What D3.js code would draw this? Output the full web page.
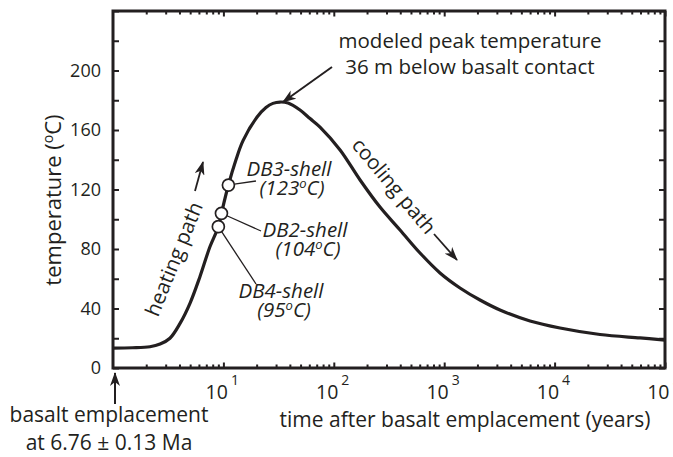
<!DOCTYPE html>
<html><head><meta charset="utf-8">
<script src="https://cdn.jsdelivr.net/npm/d3@7"></script>
<style>
body{margin:0;background:#fff;}
svg text{font-family:"Open Sans",sans-serif;fill:#231f20;}
</style></head><body>
<svg id="chart" width="673" height="457"></svg>
<script>
// ---- data ----
const timeYears = [1, 1.5, 2.16, 2.67, 3.28, 4.05, 4.98, 6.13, 7.55, 9.0, 9.6, 11.1, 13.0, 15.1, 20.2, 24.3, 28.1, 32.6, 38.5, 49.4, 60.9, 75, 114, 173, 262, 398, 604, 916, 1390, 2110, 3200, 5990, 11190, 25780, 59370, 100000];
const tempC     = [13.4, 13.6, 14.3, 16.1, 20, 30, 43.5, 61.4, 81.5, 95, 104, 123, 140, 153, 168.7, 175.1, 177.9, 178.8, 178.1, 173.4, 167.7, 162, 146.6, 126.4, 108.2, 92.8, 77.3, 63.9, 53.8, 45.7, 39, 31.6, 26.9, 22.5, 20.2, 18.8];
const sampleNames = ["DB3-shell", "DB2-shell", "DB4-shell"];
const sampleTemps = [123, 104, 95];
const sampleTimes = [11.1, 9.6, 9.0];
const yTickLabels = [0, 40, 80, 120, 160, 200];
const yTickValues = [0, 20, 40, 60, 80, 100, 120, 140, 160, 180, 200, 220, 240];
const xDecadeExponents = [1, 2, 3, 4, 5];
const xMinorMultipliers = [2, 3, 4, 5, 6, 7, 8, 9];

// ---- layout ----
const W = 673, H = 457;
const M = {left: 113, right: 8, top: 11, bottom: 89};
const INK = "#231f20";
const svg = d3.select("#chart");

const x = d3.scaleLog().domain([1, 1e5]).range([M.left, W - M.right]);
const y = d3.scaleLinear().domain([0, 240]).range([H - M.bottom, M.top]);

const defs = svg.append("defs");
defs.append("marker").attr("id", "arr")
  .attr("viewBox", "0 0 14 10").attr("refX", 13).attr("refY", 5)
  .attr("markerWidth", 14).attr("markerHeight", 10)
  .attr("markerUnits", "userSpaceOnUse").attr("orient", "auto")
  .append("path").attr("d", "M0,0 L14,5 L0,10 L4,5 Z").attr("fill", INK);

function styleAxis(g, fs) {
  g.select(".domain").remove();
  g.selectAll(".tick line").attr("stroke", INK).attr("stroke-width", 2);
  g.selectAll(".tick text").attr("font-size", fs).attr("fill", INK)
    .style("font-family", '"Open Sans",sans-serif');
}

// y axes
svg.append("g").attr("transform", `translate(${M.left},0)`)
  .call(d3.axisLeft(y).tickValues(yTickValues).tickSize(-6).tickPadding(12)
    .tickFormat(d => yTickLabels.includes(d) ? d : ""))
  .call(g => styleAxis(g, "18px"));
svg.append("g").attr("transform", `translate(${W - M.right},0)`)
  .call(d3.axisRight(y).tickValues(yTickValues).tickSize(-6).tickFormat(""))
  .call(g => styleAxis(g, "18px"));

// x axes (log, minor + major)
const minorVals = [];
[0, 1, 2, 3, 4].forEach(e => xMinorMultipliers.forEach(m => minorVals.push(m * Math.pow(10, e))));
const majorVals = xDecadeExponents.map(e => Math.pow(10, e));
const yb = H - M.bottom;
svg.append("g").attr("transform", `translate(0,${yb})`)
  .call(d3.axisBottom(x).tickValues(minorVals).tickSize(-3.5).tickFormat(""))
  .call(g => styleAxis(g, "18px"));
svg.append("g").attr("transform", `translate(0,${M.top})`)
  .call(d3.axisTop(x).tickValues(minorVals).tickSize(-3.5).tickFormat(""))
  .call(g => styleAxis(g, "18px"));
svg.append("g").attr("transform", `translate(0,${M.top})`)
  .call(d3.axisTop(x).tickValues(majorVals).tickSize(-5.5).tickFormat(""))
  .call(g => styleAxis(g, "18px"));
const xMajor = svg.append("g").attr("transform", `translate(0,${yb})`)
  .call(d3.axisBottom(x).tickValues(majorVals).tickSize(-5.5).tickFormat(""))
  .call(g => styleAxis(g, "18px"));
xMajor.selectAll(".tick").each(function(d) {
  const t = d3.select(this);
  t.append("text").attr("x", 4).attr("y", 31).attr("text-anchor", "end")
    .attr("font-size", "19.5px").attr("fill", INK).text("10");
  t.append("text").attr("x", 7).attr("y", 17).attr("text-anchor", "start")
    .attr("font-size", "14px").attr("fill", INK).text(Math.round(Math.log10(d)));
});

// frame
svg.append("rect").attr("x", M.left).attr("y", M.top)
  .attr("width", W - M.right - M.left).attr("height", yb - M.top)
  .attr("fill", "none").attr("stroke", INK).attr("stroke-width", 3);

// curve
const pts = timeYears.map((t, i) => [t, tempC[i]]);
svg.append("path").datum(pts)
  .attr("d", d3.line().x(d => x(d[0])).y(d => y(d[1])).curve(d3.curveCatmullRom.alpha(0.5)))
  .attr("fill", "none").attr("stroke", INK).attr("stroke-width", 3.2)
  .attr("stroke-linejoin", "round");

// sample annotations
const ANN = "20.5px";
const labelPos = [ // first-line centre x, baseline y, leader end
  {cx: 289, ty: 176, lx: 256, ly: 181},
  {cx: 305, ty: 237, lx: 261, ly: 231},
  {cx: 281, ty: 298, lx: 256, ly: 284}
];
sampleNames.forEach((name, i) => {
  const cx = x(sampleTimes[i]), cy = y(sampleTemps[i]);
  const p = labelPos[i];
  const dx = p.lx - cx, dy = p.ly - cy, len = Math.hypot(dx, dy);
  svg.append("line").attr("x1", cx + dx / len * 6).attr("y1", cy + dy / len * 6)
    .attr("x2", p.lx).attr("y2", p.ly).attr("stroke", INK).attr("stroke-width", 1.3);
  svg.append("text").attr("x", p.cx).attr("y", p.ty).attr("text-anchor", "middle")
    .attr("font-size", ANN).attr("font-style", "italic").text(name);
  const t2 = svg.append("text").attr("x", p.cx + 3).attr("y", p.ty + 19).attr("text-anchor", "middle")
    .attr("font-size", ANN).attr("font-style", "italic");
  t2.append("tspan").text("(" + sampleTemps[i]);
  t2.append("tspan").attr("dy", -7).attr("font-size", "13px").text("o");
  t2.append("tspan").attr("dy", 7).text("C)");
});
svg.selectAll(".sample").data(sampleNames).enter().append("circle")
  .attr("class", "sample")
  .attr("cx", (d, i) => x(sampleTimes[i])).attr("cy", (d, i) => y(sampleTemps[i]))
  .attr("r", 6).attr("fill", "#fff").attr("stroke", INK).attr("stroke-width", 1.7);

// y title
const yt = svg.append("text").attr("transform", "translate(61,200) rotate(-90)")
  .attr("text-anchor", "middle").attr("font-size", "22px");
yt.append("tspan").text("temperature (");
yt.append("tspan").attr("dy", -8).attr("font-size", "14px").text("o");
yt.append("tspan").attr("dy", 8).text("C)");

// x title
svg.append("text").attr("x", 465).attr("y", 427).attr("text-anchor", "middle")
  .attr("font-size", "21px").text("time after basalt emplacement (years)");

// basalt emplacement
svg.append("text").attr("x", 109).attr("y", 422).attr("text-anchor", "middle")
  .attr("font-size", "21px").text("basalt emplacement");
svg.append("text").attr("x", 109).attr("y", 450).attr("text-anchor", "middle")
  .attr("font-size", "21px").text("at 6.76 \u00b1 0.13 Ma");
svg.append("line").attr("x1", 115).attr("y1", 404).attr("x2", 115).attr("y2", 373)
  .attr("stroke", INK).attr("stroke-width", 2).attr("marker-end", "url(#arr)");

// peak annotation
svg.append("text").attr("x", 470).attr("y", 48).attr("text-anchor", "middle")
  .attr("font-size", ANN).text("modeled peak temperature");
svg.append("text").attr("x", 470).attr("y", 74).attr("text-anchor", "middle")
  .attr("font-size", ANN).text("36 m below basalt contact");
svg.append("line").attr("x1", 332).attr("y1", 67).attr("x2", 283).attr("y2", 102)
  .attr("stroke", INK).attr("stroke-width", 2).attr("marker-end", "url(#arr)");

// heating path
svg.append("text").attr("transform", "translate(174,259) rotate(-68)")
  .attr("text-anchor", "middle").attr("dy", "0.35em")
  .attr("font-size", ANN).text("heating path");
svg.append("line").attr("x1", 195).attr("y1", 191).attr("x2", 203).attr("y2", 162)
  .attr("stroke", INK).attr("stroke-width", 1.8).attr("marker-end", "url(#arr)");

// cooling path
svg.append("text").attr("transform", "translate(394,186) rotate(50)")
  .attr("text-anchor", "middle").attr("dy", "0.35em")
  .attr("font-size", ANN).text("cooling path");
svg.append("line").attr("x1", 434).attr("y1", 234).attr("x2", 457).attr("y2", 260)
  .attr("stroke", INK).attr("stroke-width", 1.8).attr("marker-end", "url(#arr)");
</script>
</body></html>
